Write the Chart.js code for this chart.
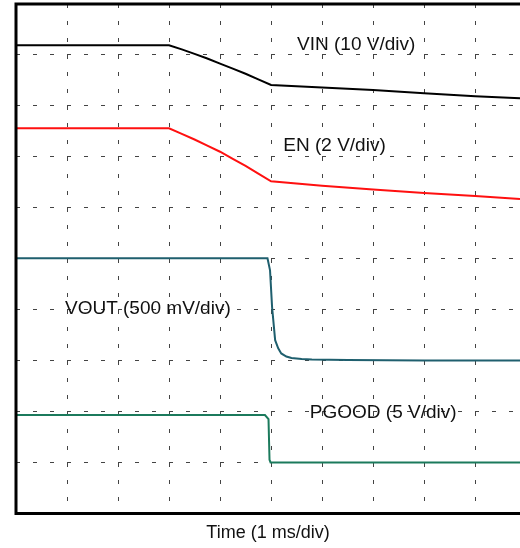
<!DOCTYPE html>
<html lang="en">
<head>
    <meta charset="UTF-8">
    <title>Power-down waveforms</title>
    <style>
        html, body { margin: 0; padding: 0; background: #fff; overflow: hidden; }
        canvas { display: block; }
    </style>
</head>
<body>
    <canvas id="chart" width="520" height="548"></canvas>

    <script src="https://cdn.jsdelivr.net/npm/chart.js@4/dist/chart.umd.min.js"></script>
    <script>
        // time in divisions (1 ms/div), amplitude in screen divisions
        const vinT = [0, 3.0, 3.25, 3.5, 3.75, 4.0, 4.25, 4.5, 4.75, 5.0, 6.0, 7.0, 8.0, 9.0, 9.88];
        const vinV = [9.19, 9.19, 9.11, 9.02, 8.93, 8.83, 8.73, 8.63, 8.52, 8.41, 8.36, 8.31, 8.25, 8.19, 8.15];

        const enT = [0, 3.0, 3.25, 3.5, 3.75, 4.0, 4.25, 4.5, 4.75, 5.0, 6.0, 7.0, 8.0, 9.0, 9.88];
        const enV = [7.56, 7.56, 7.45, 7.34, 7.22, 7.10, 6.96, 6.82, 6.67, 6.52, 6.43, 6.36, 6.29, 6.23, 6.17];

        const voutT = [0, 4.93, 4.98, 5.02, 5.08, 5.14, 5.2, 5.3, 5.4, 5.6, 5.8, 6.5, 8.0, 9.88];
        const voutV = [5.01, 5.01, 4.77, 4.05, 3.40, 3.24, 3.14, 3.08, 3.05, 3.03, 3.02, 3.01, 3.0, 3.0];

        const pgoodT = [0, 4.88, 4.95, 4.97, 4.99, 5.02, 9.88];
        const pgoodV = [1.93, 1.93, 1.85, 1.05, 1.0, 1.0, 1.0];

        const labelText = ['VIN (10 V/div)', 'EN (2 V/div)', 'VOUT (500 mV/div)', 'PGOOD (5 V/div)'];
        const labelT = [5.51, 5.24, 0.96, 5.76];
        const labelV = [9.20, 7.21, 4.01, 1.98];

        const toPoints = (t, v) => t.map((x, i) => ({ x, y: v[i] }));

        const frameAndLabels = {
            id: 'frameAndLabels',
            afterDraw(chart) {
                const { ctx, chartArea: a, scales } = chart;
                ctx.save();
                ctx.fillStyle = '#111';
                ctx.font = '19px "Liberation Sans", Arial, sans-serif';
                ctx.textBaseline = 'middle';
                ctx.textAlign = 'left';
                labelText.forEach((s, i) => {
                    ctx.fillText(s, scales.x.getPixelForValue(labelT[i]), scales.y.getPixelForValue(labelV[i]));
                });
                ctx.strokeStyle = '#000';
                ctx.lineWidth = 3;
                ctx.beginPath();
                ctx.moveTo(a.right + 2, a.top);
                ctx.lineTo(a.left, a.top);
                ctx.lineTo(a.left, a.bottom);
                ctx.lineTo(a.right + 2, a.bottom);
                ctx.stroke();
                ctx.restore();
            }
        };

        const gridColor = (c) => (Number.isInteger(c.tick.value) && c.tick.value > 0 && c.tick.value < 10) ? '#444' : 'rgba(0,0,0,0)';

        const ctx = document.getElementById('chart').getContext('2d');
        new Chart(ctx, {
            type: 'line',
            data: {
                datasets: [
                    { label: 'VIN', data: toPoints(vinT, vinV), borderColor: '#000' },
                    { label: 'EN', data: toPoints(enT, enV), borderColor: '#ff1010' },
                    { label: 'VOUT', data: toPoints(voutT, voutV), borderColor: '#1f5f6e' },
                    { label: 'PGOOD', data: toPoints(pgoodT, pgoodV), borderColor: '#1b7a5c' }
                ]
            },
            options: {
                responsive: false,
                animation: false,
                devicePixelRatio: 1,
                layout: { padding: { left: 16, top: 4, right: 0, bottom: 0 } },
                elements: {
                    line: { borderWidth: 2, tension: 0 },
                    point: { radius: 0, hoverRadius: 0 }
                },
                plugins: {
                    legend: { display: false },
                    tooltip: { enabled: false }
                },
                scales: {
                    x: {
                        type: 'linear',
                        min: 0,
                        max: 9.88,
                        ticks: { display: false, stepSize: 1 },
                        grid: { color: gridColor, lineWidth: 1, drawTicks: false },
                        border: { display: false, dash: [4, 13] },
                        title: {
                            display: true,
                            text: 'Time (1 ms/div)',
                            color: '#111',
                            font: { family: '"Liberation Sans", Arial, sans-serif', size: 18 },
                            padding: { top: 9, bottom: 4 }
                        }
                    },
                    y: {
                        min: 0,
                        max: 10,
                        ticks: { display: false, stepSize: 1 },
                        grid: { color: gridColor, lineWidth: 1, drawTicks: false },
                        border: { display: false, dash: [4, 13] }
                    }
                }
            },
            plugins: [frameAndLabels]
        });
    </script>
</body>
</html>
